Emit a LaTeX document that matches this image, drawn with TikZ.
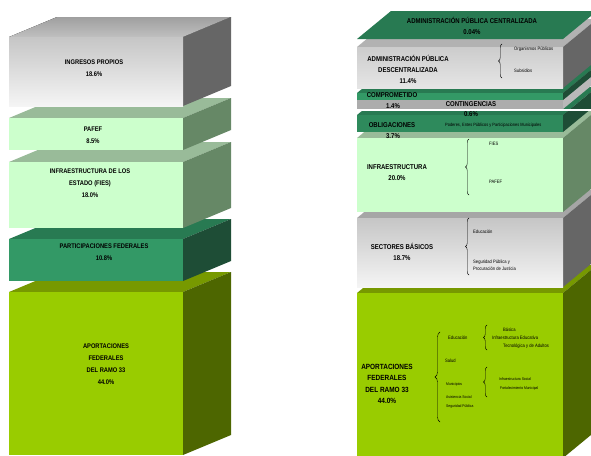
\documentclass[tikz,border=0pt]{standalone}
\usepackage{fontspec}
\setmainfont{Liberation Sans}[FakeStretch=0.86]
\usetikzlibrary{decorations.pathreplacing}

\definecolor{verdeclaro}{HTML}{CCFFCC}
\definecolor{verdeclarotop}{HTML}{99BB99}
\definecolor{verdeclaroside}{HTML}{668866}
\definecolor{verde}{HTML}{339966}
\definecolor{verdetop}{HTML}{287A52}
\definecolor{verdeside}{HTML}{1E4D36}
\definecolor{olivo}{HTML}{99CC00}
\definecolor{olivotop}{HTML}{779900}
\definecolor{olivoside}{HTML}{4D6600}
\definecolor{grisside}{HTML}{666666}
\definecolor{gristop}{HTML}{A6A6A6}

\begin{document}
\begin{tikzpicture}[x=1pt, y=-1pt,
  lbl/.style={font=\bfseries\fontsize{6.7}{12}\selectfont, align=center, inner sep=0},
  lblb/.style={font=\bfseries\fontsize{7}{11}\selectfont, align=center, inner sep=0},
  tiny/.style={font=\fontsize{4.8}{7}\selectfont, anchor=west, align=left, inner sep=0},
  tinier/.style={font=\fontsize{3.9}{6}\selectfont, anchor=west, inner sep=0},
  brace/.style={decorate, decoration={brace, amplitude=3.5pt}, thin}]

\useasboundingbox (0,0) rectangle (591,455);

% Block: x left, x right, y top, y bottom, front, top, side
\def\slab#1#2#3#4#5#6#7{%
  \fill[#6] (#1,#3) -- (#2,#3) -- ++(\dx,\dy) -- ({#1+\dx},{#3+\dy}) -- cycle;
  \fill[#7] (#2,#3) -- ++(\dx,\dy) -- ({#2+\dx},{#4+\dy}) -- (#2,#4) -- cycle;
  \fill[#5] (#1,#3) rectangle (#2,#4);
}

% ---------------- left column ----------------
\def\dx{48}
\def\dy{-20}
\slab{9}{183}{292}{455}{olivo}{olivotop}{olivoside}
\slab{9}{183}{239}{281}{verde}{verdetop}{verdeside}
\slab{9}{183}{162}{228}{verdeclaro}{verdeclarotop}{verdeclaroside}
\slab{9}{183}{118}{150}{verdeclaro}{verdeclarotop}{verdeclaroside}
\slab{9}{183}{37}{106}{top color=gray!45, bottom color=gray!8}{top color=gray!75, bottom color=gray!50}{grisside}

\node[lbl] (ingresos) at (94,68) {INGRESOS PROPIOS\\18.6\%};
\node[lbl] (pafef) at (93,135.5) {PAFEF\\8.5\%};
\node[lbl] (fies) at (90,183) {INFRAESTRUCTURA DE LOS\\ESTADO (FIES)\\18.0\%};
\node[lbl] (partic) at (104,252) {PARTICIPACIONES FEDERALES\\10.8\%};
\node[lbl] (aport) at (106,364.5) {APORTACIONES\\FEDERALES\\DEL RAMO 33\\44.0\%};

% ---------------- right column ----------------
\def\dx{34}
\def\dy{-28}
\slab{357}{563}{293}{458}{olivo}{olivotop}{olivoside}
\slab{357}{563}{218}{287}{top color=gray!45, bottom color=gray!8}{gristop}{grisside}
\slab{357}{563}{138}{212}{verdeclaro}{verdeclarotop}{verdeclaroside}
\slab{357}{563}{115}{132}{verde!90!black}{verdetop}{verdeside}
\fill[white] (357,109) rectangle (597,110.5);
\slab{357}{563}{100}{109}{gray!65}{gray!65}{gray!55}
\slab{357}{563}{93}{100}{verde}{verdetop}{verdeside}
\slab{357}{563}{47}{88}{top color=gray!40, bottom color=gray!20}{gray!60}{grisside}
% centralizada: only the lid
\fill[verdetop] (357,39) -- (563,39) -- ++(\dx,\dy) -- ({357+\dx},{39+\dy}) -- cycle;

\node[lblb] (central) at (472,26) {ADMINISTRACIÓN PÚBLICA CENTRALIZADA\\0.04\%};
\node[lblb] (descent) at (408,69) {ADMINISTRACIÓN PÚBLICA\\DESCENTRALIZADA\\11.4\%};
\node[lblb] (compro) at (392,95) {COMPROMETIDO};
\node[lblb] (compropct) at (393,106) {1.4\%};
\node[lblb] (conting) at (471,104) {CONTINGENCIAS};
\node[lblb] (contingpct) at (471,114) {0.6\%};
\node[lblb] (oblig) at (392,125) {OBLIGACIONES};
\node[lblb] (obligpct) at (393,136) {3.7\%};
\node[lblb] (infra) at (397,172.5) {INFRAESTRUCTURA\\20.0\%};
\node[lblb] (sector) at (402,252) {SECTORES BÁSICOS\\18.7\%};
\node[lblb, font=\bfseries\fontsize{7.5}{11.5}\selectfont] (ramo) at (387,384) {APORTACIONES\\FEDERALES\\DEL RAMO 33\\44.0\%};

% details
\node[tiny] (organismos) at (514,49) {Organismos Públicos};
\node[tiny] (subsidios) at (514,71) {Subsidios};
\node[tiny, font=\fontsize{4.6}{6}\selectfont] (poderes) at (445,125) {Poderes, Entes Públicos y Participaciones Municipales};
\node[tiny] (rfies) at (489,144) {FIES};
\node[tiny] (rpafef) at (489,182) {PAFEF};
\node[tiny] (seducacion) at (473,232) {Educación};
\node[tiny, font=\fontsize{4.8}{7}\selectfont] (seguridad) at (473,265.5) {Seguridad Pública y\\Procuración de Justicia};
\node[tiny] (aeducacion) at (448,338) {Educación};
\node[tiny] (salud) at (445,361) {Salud};
\node[tinier] (municipios) at (446,384) {Municipios};
\node[tinier] (asistencia) at (446,397) {Asistencia Social};
\node[tinier] (asegur) at (446,406) {Seguridad Pública};
\node[tiny] (basica) at (503,330) {Básica};
\node[tiny] (infraedu) at (492,338) {Infraestructura Educativa};
\node[tiny] (tecno) at (503,346) {Tecnológica y de Adultos};
\node[tinier] (infrasoc) at (499,379) {Infraestructura Social};
\node[tinier] (fortal) at (500,388) {Fortalecimiento Municipal};

% braces
\coordinate (bdA) at (502,78);   \coordinate (bdB) at (502,44);
\coordinate (biA) at (469,195);  \coordinate (biB) at (469,139);
\coordinate (bsA) at (469,275);  \coordinate (bsB) at (469,218);
\coordinate (baA) at (440,422);  \coordinate (baB) at (440,332);
\coordinate (beA) at (487,350);  \coordinate (beB) at (487,325);
\coordinate (bmA) at (487,397);  \coordinate (bmB) at (487,367);
\draw[brace] (bdA) -- (bdB);
\draw[brace] (biA) -- (biB);
\draw[brace] (bsA) -- (bsB);
\draw[brace, decoration={amplitude=5pt}] (baA) -- (baB);
\draw[brace] (beA) -- (beB);
\draw[brace] (bmA) -- (bmB);

\end{tikzpicture}
\end{document}
